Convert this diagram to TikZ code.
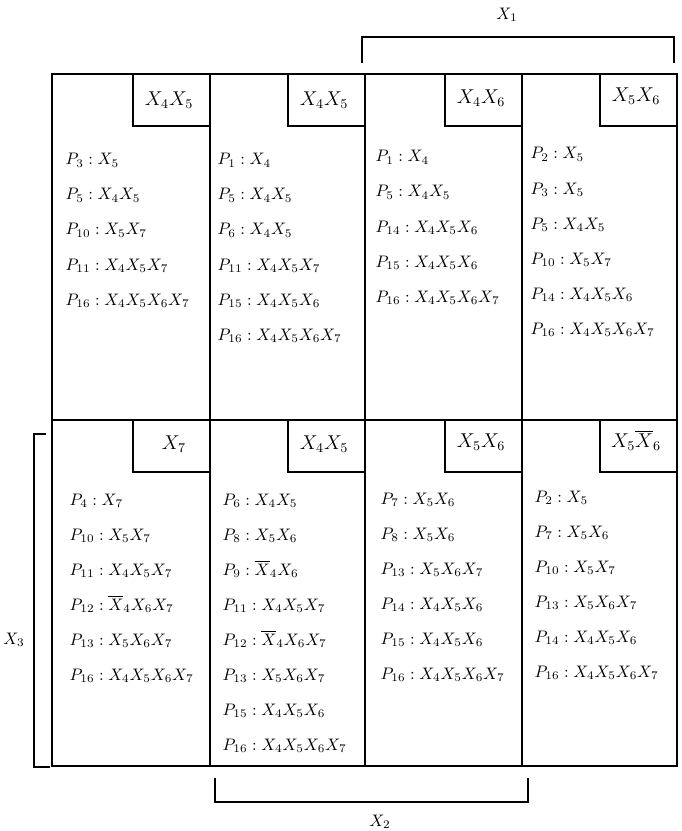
\documentclass[tikz,border=0pt]{standalone}
\tikzset{
  entry/.style={anchor=base west,inner sep=0pt},
  tag/.style={inner sep=0pt,font=\large},
}
\begin{document}
\begin{tikzpicture}[x=0.6pt,y=-0.6pt,line width=0.8pt]
	\useasboundingbox (0,0) rectangle (681,831);
	% frame
	\draw (52,74) rectangle (677,766);
	\draw (52,420) -- (677,420);
	\draw (210,74) -- (210,766);
	\draw (365,74) -- (365,766);
	\draw (522,74) -- (522,766);
	% corner boxes
	\draw (133,74) rectangle (210,126);
	\draw (288,74) rectangle (365,126);
	\draw (445,74) rectangle (522,126);
	\draw (600,74) rectangle (677,126);
	\draw (133,420) rectangle (210,472);
	\draw (288,420) rectangle (365,472);
	\draw (445,420) rectangle (522,472);
	\draw (600,420) rectangle (677,472);
	\node[tag] (t1) at (169,100) {$X_4X_5$};
	\node[tag] (t2) at (324,100) {$X_4X_5$};
	\node[tag] (t3) at (481,98) {$X_4X_6$};
	\node[tag] (t4) at (636,96) {$X_5X_6$};
	\node[tag] (b1) at (174,444) {$X_7$};
	\node[tag] (b2) at (324,444) {$X_4X_5$};
	\node[tag] (b3) at (481,442) {$X_5X_6$};
	\node[tag] (b4) at (636,440) {$X_5\overline{X}_6$};
	% top row
	\node[entry] (t1a) at (65,165) {$P_3 : X_5$};
	\node[entry] (t1b) at (65,200) {$P_5 : X_4X_5$};
	\node[entry] (t1c) at (65,235) {$P_{10} : X_5X_7$};
	\node[entry] (t1d) at (65,270) {$P_{11} : X_4X_5X_7$};
	\node[entry] (t1e) at (65,305) {$P_{16} : X_4X_5X_6X_7$};
	\node[entry] (t2a) at (217,165) {$P_1 : X_4$};
	\node[entry] (t2b) at (217,200) {$P_5 : X_4X_5$};
	\node[entry] (t2c) at (217,235) {$P_6 : X_4X_5$};
	\node[entry] (t2d) at (217,270) {$P_{11} : X_4X_5X_7$};
	\node[entry] (t2e) at (217,305) {$P_{15} : X_4X_5X_6$};
	\node[entry] (t2f) at (217,340) {$P_{16} : X_4X_5X_6X_7$};
	\node[entry] (t3a) at (375,162) {$P_1 : X_4$};
	\node[entry] (t3b) at (375,197) {$P_5 : X_4X_5$};
	\node[entry] (t3c) at (375,232) {$P_{14} : X_4X_5X_6$};
	\node[entry] (t3d) at (375,267) {$P_{15} : X_4X_5X_6$};
	\node[entry] (t3e) at (375,302) {$P_{16} : X_4X_5X_6X_7$};
	\node[entry] (t4a) at (530,159) {$P_2 : X_5$};
	\node[entry] (t4b) at (530,194) {$P_3 : X_5$};
	\node[entry] (t4c) at (530,229) {$P_5 : X_4X_5$};
	\node[entry] (t4d) at (530,264) {$P_{10} : X_5X_7$};
	\node[entry] (t4e) at (530,299) {$P_{14} : X_4X_5X_6$};
	\node[entry] (t4f) at (530,334) {$P_{16} : X_4X_5X_6X_7$};
	% bottom row
	\node[entry] (b1a) at (69,505) {$P_4 : X_7$};
	\node[entry] (b1b) at (69,540) {$P_{10} : X_5X_7$};
	\node[entry] (b1c) at (69,575) {$P_{11} : X_4X_5X_7$};
	\node[entry] (b1d) at (69,610) {$P_{12} : \overline{X}_4X_6X_7$};
	\node[entry] (b1e) at (69,645) {$P_{13} : X_5X_6X_7$};
	\node[entry] (b1f) at (69,680) {$P_{16} : X_4X_5X_6X_7$};
	\node[entry] (b2a) at (222,505) {$P_6 : X_4X_5$};
	\node[entry] (b2b) at (222,540) {$P_8 : X_5X_6$};
	\node[entry] (b2c) at (222,575) {$P_9 : \overline{X}_4X_6$};
	\node[entry] (b2d) at (222,610) {$P_{11} : X_4X_5X_7$};
	\node[entry] (b2e) at (222,645) {$P_{12} : \overline{X}_4X_6X_7$};
	\node[entry] (b2f) at (222,680) {$P_{13} : X_5X_6X_7$};
	\node[entry] (b2g) at (222,715) {$P_{15} : X_4X_5X_6$};
	\node[entry] (b2h) at (222,750) {$P_{16} : X_4X_5X_6X_7$};
	\node[entry] (b3a) at (380,504) {$P_7 : X_5X_6$};
	\node[entry] (b3b) at (380,539) {$P_8 : X_5X_6$};
	\node[entry] (b3c) at (380,574) {$P_{13} : X_5X_6X_7$};
	\node[entry] (b3d) at (380,609) {$P_{14} : X_4X_5X_6$};
	\node[entry] (b3e) at (380,644) {$P_{15} : X_4X_5X_6$};
	\node[entry] (b3f) at (380,679) {$P_{16} : X_4X_5X_6X_7$};
	\node[entry] (b4a) at (534,502) {$P_2 : X_5$};
	\node[entry] (b4b) at (534,537) {$P_7 : X_5X_6$};
	\node[entry] (b4c) at (534,572) {$P_{10} : X_5X_7$};
	\node[entry] (b4d) at (534,607) {$P_{13} : X_5X_6X_7$};
	\node[entry] (b4e) at (534,642) {$P_{14} : X_4X_5X_6$};
	\node[entry] (b4f) at (534,677) {$P_{16} : X_4X_5X_6X_7$};
	% brackets
	\draw (362,63) -- (362,37) -- (674,37) -- (674,63);
	\node (x1) at (507,15) {$X_1$};
	\draw (215,778) -- (215,802) -- (528,802) -- (528,778);
	\node (x2) at (380,822) {$X_2$};
	\draw (46,434) -- (34,434) -- (34,767) -- (50,767);
	\node (x3) at (14,640) {$X_3$};
\end{tikzpicture}
\end{document}
